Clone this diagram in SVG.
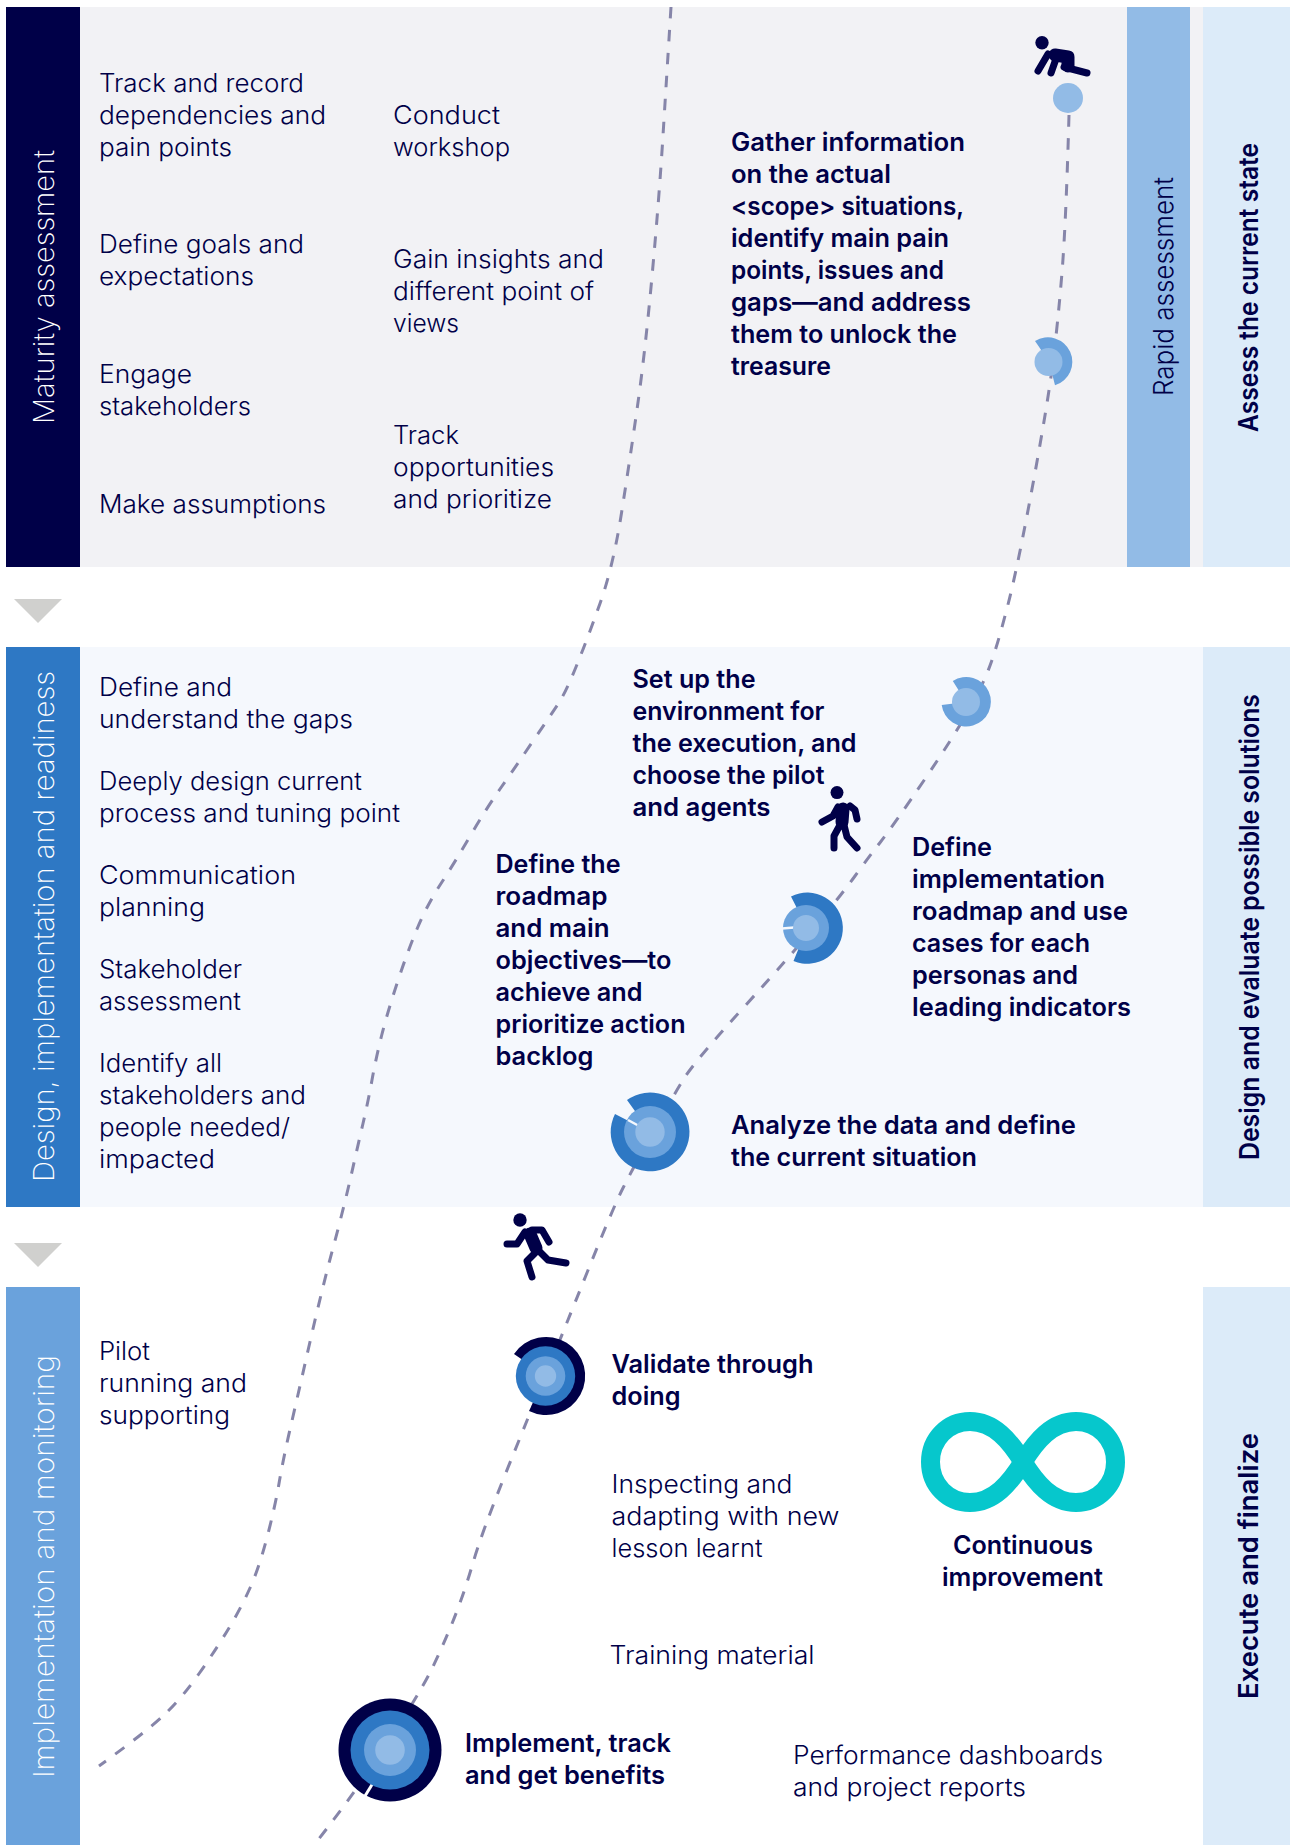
<svg xmlns="http://www.w3.org/2000/svg" width="1290" height="1845" viewBox="0 0 1290 1845">
<style>
text{font-family:"Inter","Liberation Sans",sans-serif;font-size:25px;fill:#000048;font-weight:300}
.b{font-weight:600}
.s{font-size:28px;fill:#fff;font-weight:200}
.r{font-size:27px;font-weight:300}
.c{font-size:27px;font-weight:600}
.dash{fill:none;stroke:#8685a9;stroke-width:3;stroke-dasharray:11.5 11.5}
.navy{fill:#000048}.blue{fill:#2e78c4}.mid{fill:#6aa2dc}.pale{fill:#92bbe6}
.fig{fill:none;stroke:#000048;stroke-width:7;stroke-linecap:round;stroke-linejoin:round}
.fat{stroke-width:13}
.arr{fill:#d0d0ce}
</style>
<rect width="1290" height="1845" fill="#fff"/>
<g id="panels">
<rect x="80" y="7" width="1123" height="560" fill="#f2f2f5"/>
<rect x="6" y="7" width="74" height="560" fill="#000048"/>
<rect x="1127" y="7" width="63" height="560" fill="#92bbe6"/>
<rect x="1203" y="7" width="87" height="560" fill="#dcebf9"/>
<rect x="80" y="647" width="1123" height="560" fill="#f5f8fd"/>
<rect x="6" y="647" width="74" height="560" fill="#2e78c4"/>
<rect x="1203" y="647" width="87" height="560" fill="#dcebf9"/>
<rect x="6" y="1287" width="74" height="558" fill="#6aa2dc"/>
<rect x="1203" y="1287" width="87" height="558" fill="#dcebf9"/>
<polygon class="arr" points="14,599 62,599 38,623"/>
<polygon class="arr" points="14,1243 62,1243 38,1267"/>
</g>
<g id="connectors">
<path class="dash" d="M671 7Q667 71 663 135.5Q659 200 652 276.5Q645 353 637.5 406Q630 459 621.5 513Q613 567 600 603.5Q587 640 576 667Q565 694 557.5 705Q550 716 532 742.5Q514 769 500 789Q486 809 470.5 835.5Q455 862 441 883.5Q427 905 417 929Q407 953 397 983.5Q387 1014 381.5 1036Q376 1058 372 1080Q368 1102 363 1123.5Q358 1145 351 1176Q344 1207 333 1248Q322 1289 309.5 1344Q297 1399 290 1429.5Q283 1460 279 1483.5Q275 1507 267 1537.5Q259 1568 250 1588Q241 1608 229 1628Q217 1648 199.5 1673Q182 1698 164 1715Q146 1732 99 1766"/>
<path class="dash" d="M1069 115Q1066 223 1062 272.5Q1058 322 1052.75 363.5Q1047.5 405 1032.75 485Q1018 565 1008.5 602.5Q999 640 991.5 661.5Q984 683 969.75 708.5Q955.5 734 924.25 780Q893 826 880.5 842Q868 858 855 876Q842 894 817.5 923.5Q793 953 744 1007Q695 1061 684 1078.5Q673 1096 652.5 1133Q632 1170 622.5 1189Q613 1208 587.5 1271.5Q562 1335 546 1374Q530 1413 506 1472.5Q482 1532 472.5 1564.5Q463 1597 451 1626Q439 1655 429 1674.5Q419 1694 387.5 1743Q356 1792 314 1845"/>
</g>
<g id="label-maturity"><text class="s" transform="translate(53.5 424) rotate(-90)" textLength="274" lengthAdjust="spacingAndGlyphs">Maturity assessment</text></g>
<g id="label-design"><text class="s" transform="translate(53.5 1182) rotate(-90)" textLength="511" lengthAdjust="spacingAndGlyphs">Design, implementation and readiness</text></g>
<g id="label-impl"><text class="s" transform="translate(53.5 1778) rotate(-90)" textLength="423" lengthAdjust="spacingAndGlyphs">Implementation and monitoring</text></g>
<g id="label-rapid"><text class="r" transform="translate(1173 396) rotate(-90)" textLength="219" lengthAdjust="spacingAndGlyphs">Rapid assessment</text></g>
<g id="label-assess"><text class="c" transform="translate(1257.5 432) rotate(-90)" textLength="289" lengthAdjust="spacingAndGlyphs">Assess the current state</text></g>
<g id="label-evaluate"><text class="c" transform="translate(1258.5 1160) rotate(-90)" textLength="466" lengthAdjust="spacingAndGlyphs">Design and evaluate possible solutions</text></g>
<g id="label-execute"><text class="c" transform="translate(1257.5 1699) rotate(-90)" textLength="266" lengthAdjust="spacingAndGlyphs">Execute and finalize</text></g>
<g id="t-track"><text x="99" y="92" textLength="205" lengthAdjust="spacingAndGlyphs">Track and record</text><text x="99" y="124" textLength="227" lengthAdjust="spacingAndGlyphs">dependencies and</text><text x="99" y="156" textLength="133" lengthAdjust="spacingAndGlyphs">pain points</text></g>
<g id="t-goals"><text x="99" y="253" textLength="205" lengthAdjust="spacingAndGlyphs">Define goals and</text><text x="99" y="285" textLength="155" lengthAdjust="spacingAndGlyphs">expectations</text></g>
<g id="t-engage"><text x="99" y="383" textLength="93" lengthAdjust="spacingAndGlyphs">Engage</text><text x="99" y="415" textLength="152" lengthAdjust="spacingAndGlyphs">stakeholders</text></g>
<g id="t-make"><text x="99" y="513" textLength="227" lengthAdjust="spacingAndGlyphs">Make assumptions</text></g>
<g id="t-conduct"><text x="393" y="124" textLength="107" lengthAdjust="spacingAndGlyphs">Conduct</text><text x="393" y="156" textLength="117" lengthAdjust="spacingAndGlyphs">workshop</text></g>
<g id="t-gain"><text x="393" y="268" textLength="211" lengthAdjust="spacingAndGlyphs">Gain insights and</text><text x="393" y="300" textLength="201" lengthAdjust="spacingAndGlyphs">different point of</text><text x="393" y="332" textLength="66" lengthAdjust="spacingAndGlyphs">views</text></g>
<g id="t-opp"><text x="393" y="444" textLength="66" lengthAdjust="spacingAndGlyphs">Track</text><text x="393" y="476" textLength="161" lengthAdjust="spacingAndGlyphs">opportunities</text><text x="393" y="508" textLength="159" lengthAdjust="spacingAndGlyphs">and prioritize</text></g>
<g id="t-gather"><text class="b" x="731" y="151" textLength="234" lengthAdjust="spacingAndGlyphs">Gather information</text><text class="b" x="731" y="183" textLength="160" lengthAdjust="spacingAndGlyphs">on the actual</text><text class="b" x="731" y="215" textLength="233" lengthAdjust="spacingAndGlyphs">&lt;scope&gt; situations,</text><text class="b" x="731" y="247" textLength="218" lengthAdjust="spacingAndGlyphs">identify main pain</text><text class="b" x="731" y="279" textLength="213" lengthAdjust="spacingAndGlyphs">points, issues and</text><text class="b" x="731" y="311" textLength="240" lengthAdjust="spacingAndGlyphs">gaps—and address</text><text class="b" x="731" y="343" textLength="226" lengthAdjust="spacingAndGlyphs">them to unlock the</text><text class="b" x="731" y="375" textLength="100" lengthAdjust="spacingAndGlyphs">treasure</text></g>
<g id="t-gaps"><text x="99" y="696" textLength="133" lengthAdjust="spacingAndGlyphs">Define and</text><text x="99" y="728" textLength="254" lengthAdjust="spacingAndGlyphs">understand the gaps</text></g>
<g id="t-deeply"><text x="99" y="790" textLength="263" lengthAdjust="spacingAndGlyphs">Deeply design current</text><text x="99" y="822" textLength="301" lengthAdjust="spacingAndGlyphs">process and tuning point</text></g>
<g id="t-comm"><text x="99" y="884" textLength="197" lengthAdjust="spacingAndGlyphs">Communication</text><text x="99" y="916" textLength="106" lengthAdjust="spacingAndGlyphs">planning</text></g>
<g id="t-stake"><text x="99" y="978" textLength="143" lengthAdjust="spacingAndGlyphs">Stakeholder</text><text x="99" y="1010" textLength="142" lengthAdjust="spacingAndGlyphs">assessment</text></g>
<g id="t-identify"><text x="99" y="1072" textLength="123" lengthAdjust="spacingAndGlyphs">Identify all</text><text x="99" y="1104" textLength="207" lengthAdjust="spacingAndGlyphs">stakeholders and</text><text x="99" y="1136" textLength="191" lengthAdjust="spacingAndGlyphs">people needed/</text><text x="99" y="1168" textLength="116" lengthAdjust="spacingAndGlyphs">impacted</text></g>
<g id="t-setup"><text class="b" x="632.5" y="688" textLength="123" lengthAdjust="spacingAndGlyphs">Set up the</text><text class="b" x="632.5" y="720" textLength="192" lengthAdjust="spacingAndGlyphs">environment for</text><text class="b" x="632.5" y="752" textLength="224" lengthAdjust="spacingAndGlyphs">the execution, and</text><text class="b" x="632.5" y="784" textLength="192" lengthAdjust="spacingAndGlyphs">choose the pilot</text><text class="b" x="632.5" y="816" textLength="138" lengthAdjust="spacingAndGlyphs">and agents</text></g>
<g id="t-roadmap"><text class="b" x="495.5" y="873" textLength="125" lengthAdjust="spacingAndGlyphs">Define the</text><text class="b" x="495.5" y="905" textLength="112" lengthAdjust="spacingAndGlyphs">roadmap</text><text class="b" x="495.5" y="937" textLength="114" lengthAdjust="spacingAndGlyphs">and main</text><text class="b" x="495.5" y="969" textLength="176" lengthAdjust="spacingAndGlyphs">objectives—to</text><text class="b" x="495.5" y="1001" textLength="147" lengthAdjust="spacingAndGlyphs">achieve and</text><text class="b" x="495.5" y="1033" textLength="190" lengthAdjust="spacingAndGlyphs">prioritize action</text><text class="b" x="495.5" y="1065" textLength="98" lengthAdjust="spacingAndGlyphs">backlog</text></g>
<g id="t-impl"><text class="b" x="912" y="856" textLength="80" lengthAdjust="spacingAndGlyphs">Define</text><text class="b" x="912" y="888" textLength="193" lengthAdjust="spacingAndGlyphs">implementation</text><text class="b" x="912" y="920" textLength="216" lengthAdjust="spacingAndGlyphs">roadmap and use</text><text class="b" x="912" y="952" textLength="178" lengthAdjust="spacingAndGlyphs">cases for each</text><text class="b" x="912" y="984" textLength="166" lengthAdjust="spacingAndGlyphs">personas and</text><text class="b" x="912" y="1016" textLength="219" lengthAdjust="spacingAndGlyphs">leading indicators</text></g>
<g id="t-analyze"><text class="b" x="731" y="1134" textLength="345" lengthAdjust="spacingAndGlyphs">Analyze the data and define</text><text class="b" x="731" y="1166" textLength="246" lengthAdjust="spacingAndGlyphs">the current situation</text></g>
<g id="t-pilot"><text x="99" y="1360" textLength="51" lengthAdjust="spacingAndGlyphs">Pilot</text><text x="99" y="1392" textLength="148" lengthAdjust="spacingAndGlyphs">running and</text><text x="99" y="1424" textLength="131" lengthAdjust="spacingAndGlyphs">supporting</text></g>
<g id="t-validate"><text class="b" x="611.5" y="1373" textLength="202" lengthAdjust="spacingAndGlyphs">Validate through</text><text class="b" x="611.5" y="1405" textLength="69" lengthAdjust="spacingAndGlyphs">doing</text></g>
<g id="t-inspect"><text x="611.5" y="1493" textLength="181" lengthAdjust="spacingAndGlyphs">Inspecting and</text><text x="611.5" y="1525" textLength="228" lengthAdjust="spacingAndGlyphs">adapting with new</text><text x="611.5" y="1557" textLength="151" lengthAdjust="spacingAndGlyphs">lesson learnt</text></g>
<g id="t-training"><text x="609.5" y="1664" textLength="205" lengthAdjust="spacingAndGlyphs">Training material</text></g>
<g id="t-implement"><text class="b" x="465" y="1752" textLength="206" lengthAdjust="spacingAndGlyphs">Implement, track</text><text class="b" x="465" y="1784" textLength="200" lengthAdjust="spacingAndGlyphs">and get benefits</text></g>
<g id="t-perf"><text x="793" y="1764" textLength="310" lengthAdjust="spacingAndGlyphs">Performance dashboards</text><text x="793" y="1796" textLength="233" lengthAdjust="spacingAndGlyphs">and project reports</text></g>
<g id="continuous">
<path d="M930.5 1462C930.5 1439 948 1421.5 970 1421.5C994 1421.5 1010 1441 1023 1462C1036 1483 1052 1502.5 1076 1502.5C1098 1502.5 1115.5 1485 1115.5 1462C1115.5 1439 1098 1421.5 1076 1421.5C1052 1421.5 1036 1441 1023 1462C1010 1483 994 1502.5 970 1502.5C948 1502.5 930.5 1485 930.5 1462Z" fill="none" stroke="#06c7cc" stroke-width="19"/>
<text class="b" x="953" y="1554" textLength="140" lengthAdjust="spacingAndGlyphs">Continuous</text><text class="b" x="942" y="1586" textLength="161" lengthAdjust="spacingAndGlyphs">improvement</text>
</g>
<g id="node1"><circle class="pale" cx="1068" cy="98" r="15"/></g>
<g id="node2"><path class="mid" d="M1049 361.5L1035 341A24.5 24.5 0 1 1 1055 385.3Z"/><circle class="pale" cx="1048.5" cy="362" r="14"/></g>
<g id="node3"><path class="mid" d="M966 702L952.8 681A24.7 24.7 0 1 1 941.7 705Z"/><circle class="pale" cx="966" cy="702" r="14"/></g>
<g id="node4"><path class="blue" d="M807 928L791 896.5A35.6 35.6 0 1 1 793.5 961Z"/><circle class="mid" cx="806" cy="928" r="23"/><path d="M782 928.5L794 927.5" stroke="#f5f8fd" stroke-width="2.5"/><circle class="pale" cx="806" cy="928" r="13"/></g>
<g id="node5"><path class="blue" d="M650 1132L627 1100A39.4 39.4 0 1 1 615 1114Z"/><circle class="mid" cx="650" cy="1132" r="26"/><path d="M628 1120L639 1126" stroke="#f5f8fd" stroke-width="2.5"/><circle class="pale" cx="650" cy="1132" r="14.7"/></g>
<g id="node6"><path class="navy" d="M546 1376L514 1354A39 39 0 1 1 529 1411Z"/><circle class="blue" cx="545.5" cy="1376" r="29.7"/><circle class="mid" cx="545.5" cy="1376" r="19.8"/><circle class="pale" cx="545.5" cy="1376" r="10.7"/></g>
<g id="node7"><circle class="navy" cx="390" cy="1750" r="51.5"/><path d="M365 1796L373 1783" stroke="#fff" stroke-width="3"/><circle class="blue" cx="390" cy="1750" r="39.5"/><circle class="mid" cx="390" cy="1750" r="26"/><circle class="pale" cx="390" cy="1750" r="14.8"/></g>
<g id="crawler"><circle class="navy" cx="1042" cy="42.7" r="6.7"/><path class="fig" d="M1048 54L1038 71M1057 56L1051 73M1064 67L1087 73"/><path class="fig fat" d="M1055 55L1068 57L1068 66"/></g>
<g id="walker"><circle class="navy" cx="837" cy="792.6" r="6.5"/><path class="fig" d="M838 807L833 816L822 822M850 806L855 810L857 819M840 825L834 836L834 848M844 825L847 837L857 848"/><path class="fig fat" d="M843 809L842 822"/></g>
<g id="runner"><circle class="navy" cx="520" cy="1220" r="6.7"/><path class="fig" d="M525 1232L517 1244L507 1244M532 1230L542 1230L549 1242M538 1250L548 1260L566 1263M535 1253L527 1261L532 1277"/><path class="fig fat" d="M530 1234L536 1248"/></g>
</svg>
